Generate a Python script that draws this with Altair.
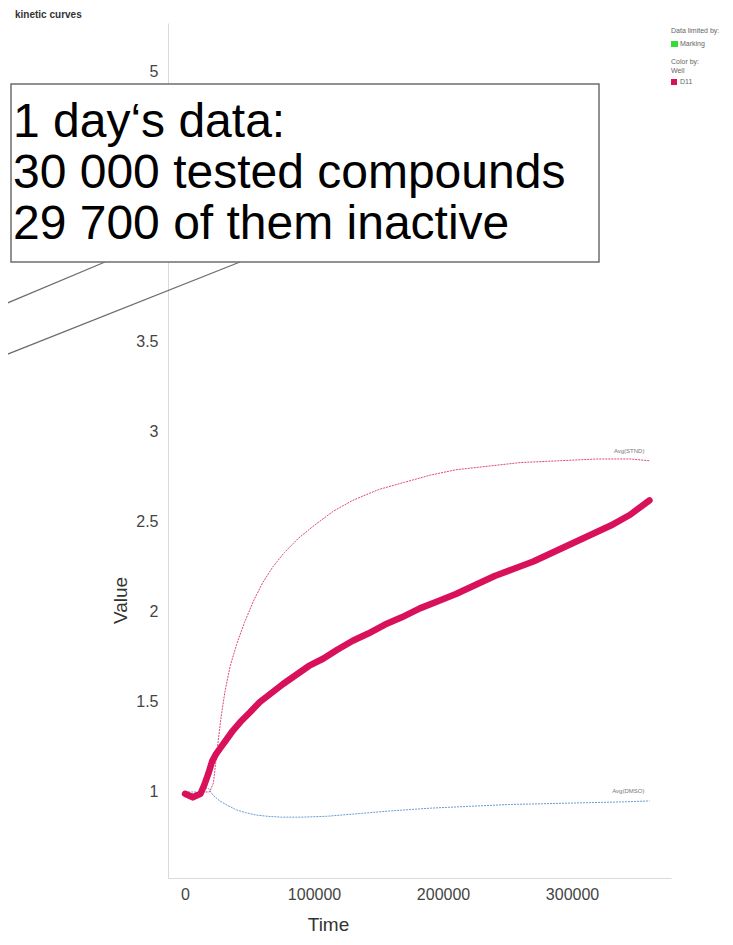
import altair as alt
import pandas as pd

# ---------------- data ----------------
d11_time = [0, 3000, 6000, 9000, 12000, 15000, 18000, 21000, 24000, 28000, 32000, 37000,
            43000, 50000, 58000, 67000, 76000, 86000, 96000, 107000, 118000, 130000,
            142000, 155000, 168000, 182000, 196000, 210000, 225000, 240000, 255000,
            270000, 285000, 300000, 315000, 330000, 345000, 360000]
d11_value = [0.99, 0.98, 0.97, 0.98, 0.99, 1.04, 1.10, 1.17, 1.21, 1.25, 1.29, 1.34,
             1.39, 1.44, 1.50, 1.55, 1.60, 1.65, 1.70, 1.74, 1.79, 1.84,
             1.88, 1.93, 1.97, 2.02, 2.06, 2.10, 2.15, 2.20, 2.24,
             2.28, 2.33, 2.38, 2.43, 2.48, 2.54, 2.62]

stnd_time = [0, 5000, 10000, 15000, 19000, 22000, 25000, 28000, 31000, 35000, 40000,
             46000, 53000, 60000, 68000, 77000, 88000, 100000, 115000, 130000, 150000,
             170000, 190000, 210000, 235000, 260000, 290000, 320000, 345000, 360000]
stnd_value = [1.0, 0.99, 0.99, 1.0, 1.0, 1.05, 1.24, 1.42, 1.56, 1.70, 1.82,
              1.94, 2.06, 2.16, 2.25, 2.33, 2.41, 2.48, 2.56, 2.62, 2.68,
              2.72, 2.76, 2.79, 2.81, 2.83, 2.84, 2.85, 2.85, 2.84]

dmso_time = [0, 5000, 10000, 15000, 18000, 22000, 27000, 33000, 40000, 47000, 55000,
             65000, 75000, 90000, 110000, 135000, 160000, 190000, 220000, 250000,
             280000, 310000, 340000, 360000]
dmso_value = [1.0, 1.0, 1.0, 1.02, 1.02, 0.98, 0.95, 0.925, 0.90, 0.885, 0.872,
              0.864, 0.86, 0.86, 0.865, 0.88, 0.895, 0.91, 0.92, 0.93,
              0.935, 0.94, 0.945, 0.95]

x_ticks = [0, 100000, 200000, 300000]
y_ticks = [1, 1.5, 2, 2.5, 3, 3.5, 5]   # 4 and 4.5 lie under the callout box

line_labels = ["Avg(STND)", "Avg(DMSO)"]
callout_lines = ["1 day\u2018s data:", "30 000 tested compounds", "29 700 of them inactive"]
legend_texts = ["Data limited by:", "Marking", "Color by:", "Well", "D11"]
chart_title = "kinetic curves"

FONT = "Liberation Sans"
W, H = 503, 855

d11 = pd.DataFrame({"Time": d11_time, "Value": d11_value})
stnd = pd.DataFrame({"Time": stnd_time, "Value": stnd_value})
dmso = pd.DataFrame({"Time": dmso_time, "Value": dmso_value})
ends = pd.DataFrame({"Time": [stnd_time[-1], dmso_time[-1]],
                     "Value": [stnd_value[-1], dmso_value[-1]],
                     "label": line_labels})

xs = alt.Scale(domain=[-13200, 376700], nice=False, zero=False)
ys = alt.Scale(domain=[0.522, 5.272], nice=False, zero=False)

xax = alt.Axis(values=x_ticks, format="d", ticks=False, grid=False, domainColor="#d9d9d9",
               labelFont=FONT, labelFontSize=16, labelColor="#444", labelPadding=8,
               title="Time", titleFont=FONT, titleFontSize=19, titleFontWeight="normal",
               titleColor="#333", titleX=160, titleY=46, titleBaseline="middle")
yax = alt.Axis(values=y_ticks, format="~g", ticks=False, grid=False, domainColor="#d9d9d9",
               labelFont=FONT, labelFontSize=16, labelColor="#444", labelPadding=10,
               title="Value", titleFont=FONT, titleFontSize=19, titleFontWeight="normal",
               titleColor="#333", titleX=-48, titleY=577, titleBaseline="middle")

base_x = alt.X("Time:Q", scale=xs, axis=xax)
base_y = alt.Y("Value:Q", scale=ys, axis=yax)

dmso_line = alt.Chart(dmso).mark_line(color="#6a9bd1", strokeWidth=1, strokeDash=[2, 1]).encode(x=base_x, y=base_y)
stnd_line = alt.Chart(stnd).mark_line(color="#e0457a", strokeWidth=1, strokeDash=[2, 1]).encode(x=base_x, y=base_y)
d11_line = alt.Chart(d11).mark_line(color="#d9105a", strokeWidth=6.5, strokeCap="round",
                                     strokeJoin="round").encode(x=base_x, y=base_y)

end_text = alt.Chart(ends).mark_text(font=FONT, fontSize=6, color="#777", align="right",
                                     dy=-10, dx=-5).encode(x=base_x, y=base_y, text="label:N")

# title
title_mark = alt.Chart(pd.DataFrame({"t": [chart_title]})).mark_text(
    font=FONT, fontSize=10, fontWeight="bold", color="#333", align="left", baseline="middle"
).encode(x=alt.value(-153), y=alt.value(-8), text="t:N")

# legend (top right)
leg_df = pd.DataFrame({"t": legend_texts,
                       "x": [503, 512, 503, 503, 512],
                       "y": [8, 21, 39, 48, 59]})
leg_layers = []
for _, r in leg_df.iterrows():
    leg_layers.append(alt.Chart(pd.DataFrame({"t": [r.t]})).mark_text(
        font=FONT, fontSize=7, color="#666", align="left", baseline="middle"
    ).encode(x=alt.value(float(r.x)), y=alt.value(float(r.y)), text="t:N"))
green_sq = alt.Chart(pd.DataFrame({"a": [0]})).mark_rect(color="#33dd33").encode(
    x=alt.value(503), x2=alt.value(510), y=alt.value(18), y2=alt.value(24))
pink_sq = alt.Chart(pd.DataFrame({"a": [0]})).mark_rect(color="#d9105a").encode(
    x=alt.value(503), x2=alt.value(509), y=alt.value(56), y2=alt.value(62))

# callout
box = alt.Chart(pd.DataFrame({"a": [0]})).mark_rect(fill="white", stroke="#6e6e6e", strokeWidth=1.5).encode(
    x=alt.value(-157), x2=alt.value(431), y=alt.value(61), y2=alt.value(239))
ptr1 = alt.Chart(pd.DataFrame({"a": [0]})).mark_rule(color="#6e6e6e", strokeWidth=1.3).encode(
    x=alt.value(-63), x2=alt.value(-170), y=alt.value(239), y2=alt.value(284))
ptr2 = alt.Chart(pd.DataFrame({"a": [0]})).mark_rule(color="#6e6e6e", strokeWidth=1.3).encode(
    x=alt.value(72), x2=alt.value(-170), y=alt.value(239), y2=alt.value(335))
callout_layers = []
for i, line in enumerate(callout_lines):
    callout_layers.append(alt.Chart(pd.DataFrame({"t": [line]})).mark_text(
        font=FONT, fontSize=48, color="black", align="left", baseline="alphabetic"
    ).encode(x=alt.value(-155), y=alt.value(114 + 51 * i), text="t:N"))

chart = alt.layer(
    dmso_line, stnd_line, d11_line, end_text, title_mark, green_sq, pink_sq, *leg_layers,
    ptr1, ptr2, box, *callout_layers
).properties(
    width=W, height=H,
    autosize=alt.AutoSizeParams(type="none"),
    padding={"left": 160, "top": 15, "right": 54, "bottom": 56},
    background="white"
).configure_view(stroke=None)

chart.save("out.html", embed_options={"renderer": "svg", "actions": False})
